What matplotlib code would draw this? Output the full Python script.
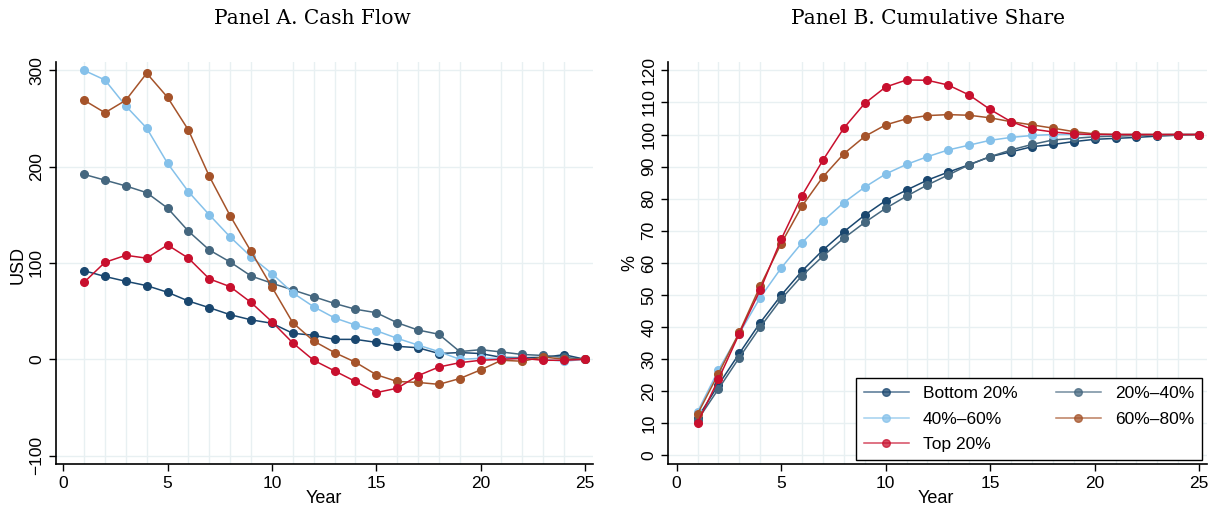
import numpy as np
import matplotlib.pyplot as plt

years = list(range(1, 26))
labels = ["Bottom 20%", "20%\u201340%", "40%\u201360%", "60%\u201380%", "Top 20%"]
colors = ["#1a476f", "#45677f", "#85c1ea", "#a5532a", "#c8102e"]

# Panel A: cash flow (USD)
cf_bottom = [92, 86, 81, 76.5, 69.6, 60.5, 53.6, 46.3, 41, 37.4, 27, 25, 20.7, 20.7, 17.6,
             13.5, 12, 6, 7, 6, 2, 1.7, 2, 4.8, 0]
cf_2040 = [192, 186, 180, 173, 157, 133, 113.5, 101, 86.5, 79, 72, 65, 58, 52, 48.4,
           38, 30.4, 26, 8, 10, 7.6, 5, 4, 2, 0]
cf_4060 = [300, 290, 263, 240, 203.5, 174, 150, 127, 106.5, 89, 69, 54.6, 43, 35.6, 29.7,
           21.8, 14.8, 8, 0, 1, 1, 1, 0, -2, 0]
cf_6080 = [269, 256, 269, 297, 272, 238, 190, 149, 112, 75, 38, 19, 7, -3, -16,
           -23, -24, -26, -20, -11, -1, -2, 2.5, 0, 0]
cf_top = [80, 100.7, 108, 105, 118.7, 105, 83.5, 75.4, 59, 39, 17, -1, -12, -23, -34.6,
          -30, -17, -8, -3.5, -1, 0, 1, -1, -1, 0]

# Panel B: cumulative share (%)
cs_bottom = [11.7, 22, 31.8, 41.4, 49.9, 57.5, 64, 69.7, 74.9, 79.4, 82.7, 85.8, 88.3, 90.6, 93.1,
             94.6, 96.2, 96.9, 97.8, 98.5, 98.8, 99.1, 99.5, 99.8, 100]
cs_2040 = [11, 20.7, 30.5, 40, 48.7, 56, 62.1, 67.7, 72.6, 77, 80.8, 84.3, 87.4, 90.6, 93.1,
           95.2, 96.9, 98.3, 98.8, 99.3, 99.5, 99.7, 99.9, 100, 100]
cs_4060 = [13.6, 26.6, 38, 49.2, 58.4, 66.3, 73, 78.8, 83.6, 87.7, 90.7, 93.1, 95.2, 96.7, 98.2,
           99.1, 99.7, 100, 100, 100, 100, 100, 100, 100, 100]
cs_6080 = [12.9, 25.5, 38.4, 52.8, 66, 77.7, 86.8, 94, 99.4, 103, 104.9, 105.9, 106.2, 106, 105.2,
           104, 103, 102, 100.9, 100.2, 100, 100, 100, 100, 100]
cs_top = [10.2, 23.7, 38, 51.6, 67.3, 81, 92, 102, 109.7, 114.8, 117, 116.9, 115.4, 112.3, 107.8,
          104, 101.7, 100.8, 100.2, 100, 100, 100, 100, 100, 100]

plt.rcParams['font.family'] = ['Liberation Sans', 'DejaVu Sans']
grid_c = "#e8f0f2"

fig = plt.figure(figsize=(12.19, 5.09), dpi=100)
axA = fig.add_axes([0.0457, 0.0884, 0.441, 0.7904])
axB = fig.add_axes([0.5482, 0.0884, 0.4417, 0.7892])


def style(ax):
    for s in ["top", "right"]:
        ax.spines[s].set_visible(False)
    for s in ["left", "bottom"]:
        ax.spines[s].set_linewidth(1.2)
    ax.set_xticks([0, 5, 10, 15, 20, 25])
    ax.set_xticks(years, minor=True)
    ax.tick_params(axis="x", which="minor", length=0)
    ax.tick_params(axis="both", which="major", labelsize=12.5, length=5, width=1)
    ax.grid(True, which="minor", axis="x", color=grid_c, lw=1)
    ax.grid(True, which="major", axis="y", color=grid_c, lw=1)
    ax.set_axisbelow(True)
    for lab in ax.get_yticklabels():
        lab.set_rotation(90)
        lab.set_va("center")
    ax.set_xlabel("Year", fontsize=13, loc="left", labelpad=2)
    ax.xaxis.set_label_coords(0.464, -0.065)


seriesA = [cf_bottom, cf_2040, cf_4060, cf_6080, cf_top]
seriesB = [cs_bottom, cs_2040, cs_4060, cs_6080, cs_top]

for vals, c, lab in zip(seriesA, colors, labels):
    axA.plot(years, vals, color=c, lw=1.1, marker="o", ms=5.5, label=lab)
axA.set_xlim(-0.36, 25.4)
axA.set_ylim(-108.7, 309)
axA.set_yticks([-100, 0, 100, 200, 300])
style(axA)
axA.set_yticklabels(["\u2212100", "0", "100", "200", "300"], rotation=90, va="center")
axA.set_ylabel("USD", fontsize=13)
axA.yaxis.set_label_coords(-0.055, 0.495)

lines = []
for vals, c, lab in zip(seriesB, colors, labels):
    ln, = axB.plot(years, vals, color=c, lw=1.1, marker="o", ms=5.5, label=lab)
    lines.append(ln)
axB.set_xlim(-0.4, 25.36)
axB.set_ylim(-2.65, 122.5)
axB.set_yticks(np.arange(0, 121, 10))
style(axB)
axB.set_ylabel("%", fontsize=13)
axB.yaxis.set_label_coords(-0.055, 0.5)

# legend filled row by row, as in the original
order = [0, 2, 4, 1, 3]
leg = axB.legend([lines[i] for i in order], [labels[i] for i in order], ncol=2,
                 loc="lower right", bbox_to_anchor=(0.991, 0.01), borderaxespad=0,
                 fontsize=12.5, frameon=True, fancybox=False, edgecolor="black", framealpha=1,
                 handlelength=2.6, columnspacing=2.2, borderpad=0.45, labelspacing=0.6)
leg.get_frame().set_linewidth(1.0)
for h in leg.legend_handles:
    h.set_alpha(0.75)

fig.text(312 / 1219, 1 - 18 / 509, "Panel A. Cash Flow", ha="center", va="center",
         fontsize=14.5, family="DejaVu Serif")
fig.text(928 / 1219, 1 - 18 / 509, "Panel B. Cumulative Share", ha="center", va="center",
         fontsize=14.5, family="DejaVu Serif")

fig.savefig("out.png", dpi=100)
